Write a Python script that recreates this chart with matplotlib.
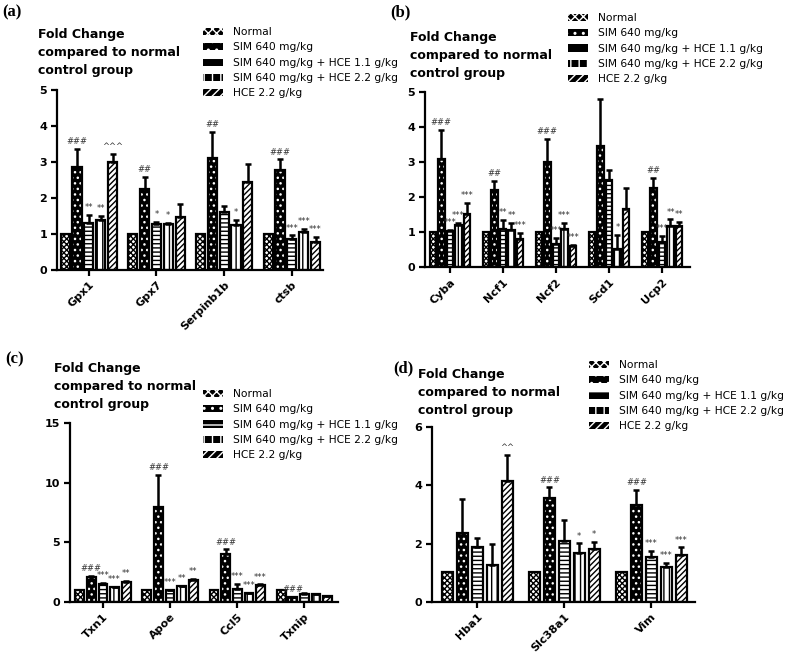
#!/usr/bin/env python3
"""Fold change bar charts, four panels (a)-(d)."""
import matplotlib

matplotlib.use("Agg")
import matplotlib.pyplot as plt
import numpy as np
from matplotlib.patches import Patch

plt.rcParams["font.family"] = "DejaVu Sans"
plt.rcParams["hatch.linewidth"] = 1.0

SERIES = [
    "Normal",
    "SIM 640 mg/kg",
    "SIM 640 mg/kg + HCE 1.1 g/kg",
    "SIM 640 mg/kg + HCE 2.2 g/kg",
    "HCE 2.2 g/kg",
]
TITLE = "Fold Change\ncompared to normal\ncontrol group"

# panel (a)
a_genes = ["Gpx1", "Gpx7", "Serpinb1b", "ctsb"]
a_means = [
    [1.0, 1.0, 1.0, 1.0],
    [2.87, 2.24, 3.12, 2.78],
    [1.31, 1.28, 1.61, 0.87],
    [1.39, 1.27, 1.25, 1.05],
    [2.99, 1.48, 2.45, 0.79],
]
a_errs = [
    [0, 0, 0, 0],
    [0.49, 0.35, 0.72, 0.29],
    [0.22, 0.06, 0.18, 0.09],
    [0.11, 0.04, 0.14, 0.10],
    [0.23, 0.34, 0.49, 0.12],
]
a_marks = [
    ["", "", "", ""],
    ["###", "##", "##", "###"],
    ["**", "*", "", "***"],
    ["**", "*", "*", "***"],
    ["^^^", "", "", "***"],
]

# panel (b)
b_genes = ["Cyba", "Ncf1", "Ncf2", "Scd1", "Ucp2"]
b_means = [
    [1.0, 1.0, 1.0, 1.0, 1.0],
    [3.09, 2.19, 3.0, 3.45, 2.26],
    [1.03, 1.09, 0.67, 2.5, 0.71],
    [1.19, 1.05, 1.10, 0.52, 1.16],
    [1.52, 0.81, 0.59, 1.67, 1.17],
]
b_errs = [
    [0, 0, 0, 0, 0],
    [0.82, 0.27, 0.67, 1.34, 0.28],
    [0.02, 0.26, 0.17, 0.26, 0.19],
    [0.07, 0.21, 0.16, 0.40, 0.20],
    [0.31, 0.17, 0.05, 0.60, 0.12],
]
b_marks = [
    ["", "", "", "", ""],
    ["###", "##", "###", "", "##"],
    ["***", "**", "***", "", "***"],
    ["***", "**", "***", "*", "**"],
    ["***", "***", "***", "", "**"],
]

# panel (c)
c_genes = ["Txn1", "Apoe", "Ccl5", "Txnip"]
c_means = [
    [1.04, 1.04, 1.04, 1.04],
    [2.1, 7.93, 4.0, 0.42],
    [1.48, 0.98, 1.12, 0.70],
    [1.26, 1.32, 0.76, 0.64],
    [1.68, 1.82, 1.40, 0.50],
]
c_errs = [
    [0, 0, 0, 0],
    [0.06, 2.71, 0.40, 0.02],
    [0.10, 0.06, 0.42, 0.06],
    [0.02, 0.03, 0.03, 0.02],
    [0.06, 0.11, 0.08, 0.03],
]
c_marks = [
    ["", "", "", ""],
    ["###", "###", "###", "###"],
    ["***", "***", "***", ""],
    ["***", "**", "***", ""],
    ["**", "**", "***", ""],
]

# panel (d)
d_genes = ["Hba1", "Slc38a1", "Vim"]
d_means = [
    [1.03, 1.03, 1.03],
    [2.35, 3.58, 3.34],
    [1.89, 2.10, 1.55],
    [1.26, 1.69, 1.20],
    [4.16, 1.83, 1.60],
]
d_errs = [
    [0, 0, 0],
    [1.17, 0.35, 0.50],
    [0.29, 0.71, 0.19],
    [0.72, 0.32, 0.15],
    [0.89, 0.23, 0.27],
]
d_marks = [
    ["", "", ""],
    ["", "###", "###"],
    ["", "", "***"],
    ["", "*", "***"],
    ["^^", "*", "***"],
]

# (face, hatch colour, hatch) per series
BAR_STYLE = [
    ("white", "black", "xxxxxx"),
    ("black", "white", "..."),
    ("white", "black", "----"),
    ("white", "black", "|||"),
    ("white", "black", "//////"),
]
LEG_HATCH = ["xxxx", "..", "-", "||", "////"]


def draw_panel(fig, rect, genes, means, errs, marks, ylim, yticks, xlim, slot, width):
    ax = fig.add_axes(rect)
    x = np.arange(len(genes))
    for i in range(len(SERIES)):
        face, hc, hatch = BAR_STYLE[i]
        pos = x + (i - 2) * slot
        ax.bar(pos, means[i], width, color=face, edgecolor=hc, hatch=hatch, lw=0, zorder=2)
        ax.bar(pos, means[i], width, fill=False, edgecolor="black", lw=1.6, zorder=3)
        err = np.array(errs[i], dtype=float)
        m = err > 0
        if m.any():
            top = np.array(means[i])[m]
            ax.errorbar(pos[m], top, yerr=[np.zeros(m.sum()), err[m]], fmt="none",
                        ecolor="black", elinewidth=1.8, capsize=2, capthick=1.8, zorder=4)
        for j, lab in enumerate(marks[i]):
            if lab:
                ax.annotate(lab, (pos[j], means[i][j] + errs[i][j]), xytext=(0, 2),
                            textcoords="offset points", ha="center", va="bottom",
                            fontsize=6, color="#333333")
    ax.set_xlim(*xlim)
    ax.set_ylim(*ylim)
    ax.set_yticks(yticks)
    ax.set_xticks(x)
    ax.set_xticklabels(genes, rotation=45, ha="right", rotation_mode="anchor",
                       fontsize=8, fontweight="bold")
    for t in ax.get_yticklabels():
        t.set_fontweight("bold")
        t.set_fontsize(8)
    ax.spines[["top", "right"]].set_visible(False)
    ax.spines[["left", "bottom"]].set_linewidth(1.6)
    ax.tick_params(width=1.6, length=4, pad=3)
    return ax


def add_legend(fig, anchor):
    handles = [Patch(facecolor="black", edgecolor="white", hatch=h, lw=0) for h in LEG_HATCH]
    fig.legend(handles, SERIES, loc="upper left", bbox_to_anchor=anchor,
               bbox_transform=fig.transFigure, frameon=False, fontsize=7.7,
               handlelength=1.9, handleheight=0.65, labelspacing=0.5,
               handletextpad=0.9, borderpad=0, borderaxespad=0)


def main():
    W, H = 787, 652
    fig = plt.figure(figsize=(W / 100, H / 100), dpi=100)

    def fx(px):
        return px / W

    def fy(py):
        return 1 - py / H

    draw_panel(fig, [fx(57), fy(270), fx(266), fy(90) - fy(270)],
               a_genes, a_means, a_errs, a_marks, (0, 5), range(6),
               (-0.47, 3.46), 0.175, 0.135)
    draw_panel(fig, [fx(425), fy(267), fx(265), fy(92) - fy(267)],
               b_genes, b_means, b_errs, b_marks, (0, 5), range(6),
               (-0.47, 4.53), 0.162, 0.12)
    draw_panel(fig, [fx(70), fy(602), fx(268), fy(423) - fy(602)],
               c_genes, c_means, c_errs, c_marks, (0, 15), [0, 5, 10, 15],
               (-0.49, 3.5), 0.173, 0.13)
    draw_panel(fig, [fx(432), fy(602), fx(263), fy(427) - fy(602)],
               d_genes, d_means, d_errs, d_marks, (0, 6), [0, 2, 4, 6],
               (-0.52, 2.5), 0.172, 0.13)

    for (px, py) in [(38, 28), (410, 31), (54, 362), (418, 368)]:
        fig.text(fx(px), fy(py), TITLE, ha="left", va="top", fontsize=9,
                 fontweight="bold", linespacing=1.5)

    for lab, (px, py) in zip(["(a)", "(b)", "(c)", "(d)"],
                             [(2, 12), (390, 12), (5, 359), (393, 368)]):
        fig.text(fx(px), fy(py), lab, ha="left", va="center", fontsize=12,
                 fontweight="bold", family="Liberation Serif")

    add_legend(fig, (fx(203), fy(27)))
    add_legend(fig, (fx(568), fy(13)))
    add_legend(fig, (fx(203), fy(389)))
    add_legend(fig, (fx(589), fy(360)))

    fig.savefig("out.png", dpi=100)
    plt.close(fig)


if __name__ == "__main__":
    main()
